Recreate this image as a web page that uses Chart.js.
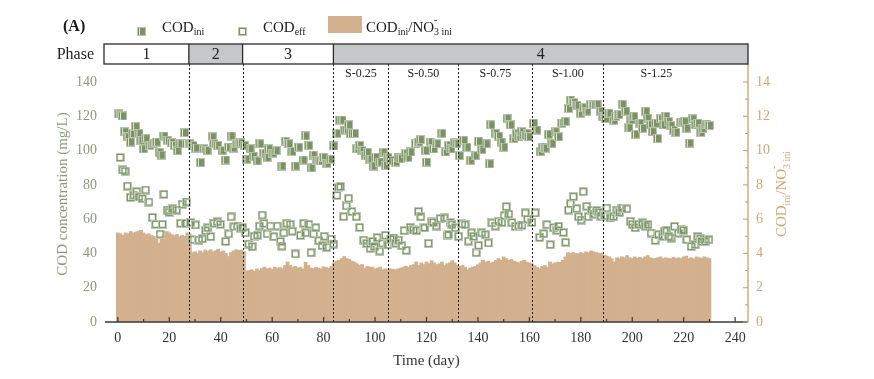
<!DOCTYPE html>
<html><head><meta charset="utf-8">
<script src="https://cdn.jsdelivr.net/npm/chart.js@4.4.1/dist/chart.umd.min.js"></script>
<style>html,body{margin:0;padding:0;background:#fff;}#wrap{width:874px;height:379px;}</style>
</head><body><div id="wrap"><canvas id="c" width="874" height="379"></canvas></div>
<script>
// ---------- DATA ----------
// COD_ini / NO3- ini ratio, one value per day (day 0 .. 230)
const ratio = [
  5.2,5.15,5.05,5.2,5.15,5.28,5.2,5.25,5.3,5.35,5.2,5.1,5.15,5.05,5.0,4.85,4.6,4.9,5.1,5.28,5.2,5.1,5.05,5.1,4.98,5.05,5.0,5.2,5.15,
  4.05,4.1,4.0,4.15,4.05,4.2,4.12,4.22,4.1,4.15,4.25,4.1,4.15,4.0,3.82,4.05,4.15,4.22,4.18,4.2,4.1,
  2.98,3.0,3.05,2.95,3.1,3.0,3.12,3.2,3.1,3.15,3.08,3.2,3.12,3.18,3.1,3.3,3.5,3.3,3.2,3.25,3.15,3.2,3.1,3.48,3.3,3.15,3.12,3.2,3.15,3.1,3.22,3.18,3.12,3.25,
  3.45,3.55,3.6,3.7,3.82,3.7,3.65,3.55,3.5,3.4,3.3,3.35,3.15,3.25,3.2,3.2,3.1,3.15,3.2,3.05,3.1,
  3.05,3.1,3.08,3.05,3.1,3.15,3.2,3.25,3.2,3.3,3.35,3.5,3.3,3.45,3.35,3.5,3.4,3.58,3.45,3.35,3.4,3.5,3.3,3.4,3.45,3.58,3.45,
  3.3,3.25,3.3,3.2,3.05,3.15,3.2,3.25,3.34,3.45,3.6,3.5,3.55,3.45,3.5,3.6,3.7,3.6,3.8,3.7,3.6,3.65,3.55,3.5,3.45,3.55,3.6,3.5,3.45,
  3.4,3.3,3.2,3.12,3.25,3.3,3.2,3.5,3.4,3.45,3.5,3.48,3.6,3.8,4.05,4.0,4.05,4.0,3.98,4.05,4.0,4.1,4.05,4.15,4.1,4.05,4.0,4.02,
  3.9,3.85,3.8,3.7,3.5,3.75,3.7,3.8,3.75,3.88,3.75,3.7,3.8,3.72,3.78,3.7,3.8,3.88,3.75,3.7,3.72,3.75,3.8,3.7,3.75,3.72,3.7,3.78,3.7,3.75,3.7,3.8,3.85,3.7,3.75,3.68,3.8,3.75,3.72,3.8,3.75,3.7
];
// COD_ini (mg/L): [day, value]
const codIni = [
  [0.4,121.4],[1.8,120.2],[2.6,111],[3.6,108],[4.9,105],[5.6,110],[6.9,114],[8.2,110],[8.9,106],[9.9,101],[10.8,107],[12.4,103],[14.0,104],[15.0,105],[16.0,99],[16.8,97.4],[17.9,108.5],[19.2,106],[20.9,104.6],[22.0,103],[23.1,100],[24.1,104],[25.9,110.5],[26.7,104],[28.0,104],
  [29.2,103],[30.2,101.5],[32.1,93],[33.4,101],[34.7,100],[36.7,108],[37.3,104],[38.8,103],[40.5,100],[41.8,94.5],[43.0,102],[44.0,108.5],[44.8,101.5],[46.3,104],[47.6,104.5],
  [49.2,103],[50.2,95],[51.4,101],[52.6,96.7],[54.1,94],[55.2,104],[56.7,98.5],[58.0,96],[58.6,101],[60.3,98.5],[61.5,100],[63.8,91],[65.1,105.5],[66.4,104],[67.7,99.5],[69.0,91],[70.3,102],[72.0,94.5],[72.9,108.6],[74.2,103],[75.1,90],[75.9,97.4],[77.4,94.5],[78.7,94],[80.0,96],[81.3,92.6],[82.6,95],[83.9,102.7],
  [85.2,110],[86.2,117.8],[87.1,117.8],[88.2,112],[88.8,112],[89.7,115],[90.4,110],[92.0,110],[92.9,101],[94.0,103],[94.9,100],[96.2,97],[97.0,99],[98.0,95],[99.2,91],[100.1,96],[101.8,93.3],[103.1,99],[104.0,91.4],
  [105.0,96],[106.0,94.3],[107.9,93.3],[109.0,96],[109.8,95.3],[111.8,98.2],[112.8,96],[113.7,99.2],[115.7,104],[117.0,105],[117.6,106.4],[119.5,100],[120.0,93.3],[121.4,105],[122.7,101],[124.0,104],[126.0,110],[127.3,99.2],[128.6,103],[129.5,101],[130.8,104.6],[131.8,104],
  [132.8,97],[134.4,106],[135.7,102],[137.0,94.3],[138.9,97],[140.2,105.5],[141.5,100.6],[143.2,104],[144.5,92.3],[145.0,115],[146.7,110],[148.0,108.5],[149.0,105],[150.0,102],[151.3,118.8],[152.6,115],[153.9,107],[155.0,110],[155.9,108],[157.0,111],[157.8,109],[159.1,110],[159.6,108],
  [161.6,116],[162.9,112],[164.2,99.4],[165.0,102],[166.1,101.4],[167.4,109.5],[168.7,104],[170.0,111],[171.3,108],[172.6,116],[173.9,117],[175.2,124.6],[175.9,129.5],[177.2,128],[178.5,126.5],[179.8,121.8],[181.1,125],[182.4,123],[183.7,127],[185.0,126.6],[186.3,127],[187.6,123],[188.6,120],
  [189.6,118.7],[190.9,121.8],[192.8,117.6],[193.5,120],[194.8,121],[196.1,127],[197.4,123],[198.7,113.2],[199.5,118],[200.6,120],[201.3,109.5],[203.0,116],[204.0,113],[205.2,123],[205.8,119],[207.0,115],[207.8,111],[209.0,116],[209.8,107],[211.0,118.5],[212.0,115],[213.0,120],[214.0,117],[215.0,114.6],[216.0,112],[217.0,110.6],[218.9,116.5],[220.2,117],[221.0,113],[222.2,104.3],[223.5,118.5],[224.5,115],[225.4,116],[226.7,110.6],[227.5,113],[228.7,115.4],[230.0,114.6]
];
// COD_eff (mg/L): [day, value]
const codEff = [
  [0.9,96],[1.9,88.7],[2.8,88],[3.7,79.3],[4.9,72.7],[6.2,74],[7.3,76],[8.2,73],[9.5,72],[10.8,77],[12.1,70],[13.4,61],[14.7,57],[16.4,51.3],[17.3,57],[17.9,74.5],[19.2,65.3],[19.9,64],[21.2,66],[22.8,65.3],[24.4,57.6],[25.0,68.7],[26.3,57.5],[26.7,70],[28.2,58],
  [28.8,48],[30.2,56.6],[31.5,47.8],[32.8,48.5],[34.1,53.3],[35.0,55],[36.1,49.8],[37.3,57.6],[38.6,58.5],[39.9,57],[41.9,47],[43.1,51.4],[44.0,61.3],[45.1,55.5],[46.4,56],[47.7,54.6],[48.5,55],
  [49.6,52],[50.9,45.5],[52.2,44],[53.0,50],[54.2,50.6],[55.0,56],[56.1,62.4],[56.8,57.5],[58.0,51.4],[59.3,56],[60.6,49.8],[61.9,56],[63.2,47],[63.8,44.3],[64.5,52],[65.7,57.6],[67.0,57],[67.8,53],[69.0,39.7],[71.0,50.6],[72.3,57.6],[73.0,52],[74.2,57],[75.1,40.4],[76.1,51.4],[77.0,55],[78.1,47.4],[79.4,44.5],[80.2,50],[81.1,43.6],[82.9,48.4],[83.9,45.5],
  [85.2,73.9],[85.8,78.6],[86.5,79],[87.8,61.4],[88.8,67.7],[89.7,72.2],[91.0,64.4],[92.7,61.4],[94.0,55.2],[95.6,47.8],[96.8,45.9],[98.1,43],[99.0,47],[99.7,44],[100.8,49.2],[101.8,41.4],[102.8,46],[104.0,50.6],
  [105.0,45],[106.0,48.2],[107.2,49],[108.0,46],[109.1,47.8],[110.4,44.5],[111.3,53.3],[112.1,41.8],[113.7,55.2],[114.9,53.7],[116.0,53.3],[116.9,64.4],[117.8,61.4],[118.8,55],[119.3,55],[120.8,45.9],[122.1,58.5],[122.7,58.1],[123.8,56],[125.3,60.3],[126.9,60.7],[128.0,50.6],[128.6,51],[129.3,58],[129.9,56.8],[131.2,55],
  [132.5,50],[133.8,57.2],[135.0,56.8],[136.3,47.2],[137.5,52],[138.3,50],[139.3,40.4],[140.2,44.7],[141.5,52],[142.8,50.9],[144.1,46.1],[145.4,57.8],[146.7,56],[148.0,58.8],[149.3,58],[150.2,62],[151.0,67.3],[152.0,63],[153.2,58],[154.5,55.8],[155.8,56],[157.1,56.5],[158.4,63.6],[159.3,60],
  [161.0,58.1],[162.3,63.6],[164.0,49.4],[165.6,51.5],[166.8,56.8],[168.1,45.1],[169.4,55],[170.7,53.5],[171.3,55.8],[173.2,52.3],[174.1,46.5],[175.2,65.3],[176.0,69],[177.1,73.1],[178.4,66.1],[179.1,61.4],[180.1,59.5],[180.9,76],[182.3,67.5],[182.9,61.4],[184.2,65.3],[185.0,63],[186.2,65],[187.0,64],[187.8,61.8],
  [189.4,62],[190.1,66.5],[191.4,60.7],[192.7,61.5],[194.0,65.3],[195.0,64],[196.0,66.5],[197.9,66],[199.2,58.8],[200.0,57],[201.1,55],[202.4,57],[204.0,57.8],[205.0,56],[206.1,56.8],[207.3,51.9],[208.9,47.6],[210.2,50.9],[211.8,50],[212.5,53],[213.4,53.5],[214.2,50],[215.1,49],[216.4,55.8],[217.9,51.9],[219.0,54],[219.9,53.5],[221.2,48],[222.9,44.1],[224.4,45.1],[225.5,49.8],[226.5,48.5],[227.0,47],[228.3,47],[229.8,48]
];
const xTicks = [0,20,40,60,80,100,120,140,160,180,200,220,240];
const yTicks = [0,20,40,60,80,100,120,140];
const y2Ticks = [0,2,4,6,8,10,12,14];
const phaseNames = ['1','2','3','4'];
const phaseEdges = [27.6,48.5,83.8];           // day boundaries between phases
const stageNames = ['S-0.25','S-0.50','S-0.75','S-1.00','S-1.25'];
const stageEdges = [83.8,105.2,132.4,161.2,188.7,230]; // day boundaries of stages
const dividers = [27.6,48.5,83.8,105.2,132.4,161.2,188.7];

// ---------- STYLE ----------
const FF = "'Liberation Serif','Times New Roman',serif";
const GREEN_TXT = '#8a9b78';
const TAN_TXT = '#d3a675';
const TAN_LINE = '#d49e68';
const BAR_COL = '#d3b08e';
const DARK = '#2b2b2b';

function makeMarker(filled){
  const c = document.createElement('canvas'); c.width = 9; c.height = 9;
  const g = c.getContext('2d');
  if (filled) {
    g.fillStyle = '#b7c3aa'; g.fillRect(0,0,9,9);
    g.fillStyle = '#7b9265'; g.fillRect(1,1,7,7);
    g.fillStyle = '#e2e8da'; g.fillRect(2,1,1,7);
  } else {
    g.strokeStyle = '#c3cdb8'; g.lineWidth = 1; g.strokeRect(0.5,0.5,8,8);
    g.strokeStyle = '#7a9468'; g.lineWidth = 1.2; g.strokeRect(1.5,1.5,6,6);
  }
  return c;
}
const filledImg = makeMarker(true);
const hollowImg = makeMarker(false);

function rich(ctx, parts, x, y, align){
  let w = 0;
  parts.forEach(p => { ctx.font = (p.b ? 'bold ' : '') + p.s + 'px ' + FF; if (p.adv !== false) w += ctx.measureText(p.t).width; });
  let cx = align === 'center' ? x - w/2 : x;
  parts.forEach(p => {
    ctx.font = (p.b ? 'bold ' : '') + p.s + 'px ' + FF;
    ctx.fillText(p.t, cx, y + (p.dy || 0));
    if (p.adv !== false) cx += ctx.measureText(p.t).width;
  });
}
const ratioTitle = [
  {t:'COD', s:15}, {t:'ini', s:10, dy:3.5}, {t:'/NO', s:15},
  {t:'-', s:10, dy:-9, adv:false}, {t:'3', s:10, dy:3.5}, {t:' ini', s:10, dy:3.5}
];

const overlay = {
  id: 'overlay',
  afterDatasetsDraw(chart){
    const {ctx, chartArea: a, scales: {x}} = chart;
    ctx.save();
    ctx.strokeStyle = '#1e1e1e'; ctx.lineWidth = 1; ctx.setLineDash([2,2]);
    dividers.forEach(d => {
      const px = Math.round(x.getPixelForValue(d)) + 0.5;
      ctx.beginPath(); ctx.moveTo(px, a.top); ctx.lineTo(px, a.bottom); ctx.stroke();
    });
    ctx.restore();
  },
  afterDraw(chart){
    const {ctx, chartArea: a, scales: {x, y2}} = chart;
    ctx.save();
    // x axis line & inward ticks
    ctx.strokeStyle = '#3a3a3a'; ctx.lineWidth = 1.3;
    ctx.beginPath(); ctx.moveTo(a.left, a.bottom); ctx.lineTo(a.right, a.bottom); ctx.stroke();
    ctx.lineWidth = 1.2;
    for (let v = 0; v <= 240; v += 10) {
      const px = x.getPixelForValue(v);
      const len = v % 20 === 0 ? 5 : 3;
      ctx.beginPath(); ctx.moveTo(px, a.bottom); ctx.lineTo(px, a.bottom - len); ctx.stroke();
    }
    // right axis line & inward ticks
    ctx.strokeStyle = TAN_LINE; ctx.lineWidth = 1.3;
    ctx.beginPath(); ctx.moveTo(a.right, a.top); ctx.lineTo(a.right, a.bottom); ctx.stroke();
    ctx.lineWidth = 1.1;
    for (let v = 0; v <= 14; v += 1) {
      const py = y2.getPixelForValue(v);
      const len = v % 2 === 0 ? 5 : 3;
      ctx.beginPath(); ctx.moveTo(a.right, py); ctx.lineTo(a.right - len, py); ctx.stroke();
    }
    // phase box
    const boxTop = 44, boxBot = a.top;
    const edges = [a.left - 1, ...phaseEdges.map(d => x.getPixelForValue(d)), a.right];
    for (let i = 0; i < 4; i++) {
      ctx.fillStyle = (i % 2 === 1) ? '#c6c7c9' : '#ffffff';
      ctx.fillRect(edges[i], boxTop, edges[i+1] - edges[i], boxBot - boxTop);
    }
    ctx.strokeStyle = DARK; ctx.lineWidth = 1.3;
    ctx.strokeRect(edges[0], boxTop, edges[4] - edges[0], boxBot - boxTop);
    for (let i = 1; i < 4; i++) {
      ctx.beginPath(); ctx.moveTo(edges[i], boxTop); ctx.lineTo(edges[i], boxBot); ctx.stroke();
    }
    ctx.fillStyle = '#222'; ctx.textBaseline = 'middle'; ctx.textAlign = 'center';
    ctx.font = '16px ' + FF;
    for (let i = 0; i < 4; i++) ctx.fillText(phaseNames[i], (edges[i] + edges[i+1]) / 2, 54.5);
    ctx.textAlign = 'right';
    ctx.fillText('Phase', 94, 54.5);
    // stage labels
    ctx.textAlign = 'center'; ctx.font = '12px ' + FF;
    for (let i = 0; i < stageNames.length; i++) {
      const cx = (x.getPixelForValue(stageEdges[i]) + x.getPixelForValue(stageEdges[i+1])) / 2;
      ctx.fillText(stageNames[i], cx, 74);
    }
    // axis titles
    ctx.fillStyle = '#333'; ctx.font = '15px ' + FF; ctx.textBaseline = 'middle';
    ctx.fillText('Time (day)', (x.getPixelForValue(0) + x.getPixelForValue(240)) / 2, 361);
    ctx.save(); ctx.translate(63, 194); ctx.rotate(-Math.PI/2);
    ctx.fillStyle = GREEN_TXT; ctx.fillText('COD concentration (mg/L)', 0, 0);
    ctx.restore();
    ctx.save(); ctx.translate(781, 194); ctx.rotate(-Math.PI/2);
    ctx.fillStyle = TAN_TXT; ctx.textAlign = 'left'; ctx.textBaseline = 'alphabetic';
    rich(ctx, ratioTitle, 0, 5, 'center');
    ctx.restore();
    // legend
    ctx.textAlign = 'left'; ctx.textBaseline = 'alphabetic'; ctx.fillStyle = '#1a1a1a';
    rich(ctx, [{t:'(A)', s:16, b:true}], 63, 31, 'left');
    ctx.drawImage(filledImg, 137, 27);
    rich(ctx, [{t:'COD', s:15}, {t:'ini', s:10, dy:3.5}], 162, 31.5, 'left');
    ctx.drawImage(hollowImg, 238, 27);
    rich(ctx, [{t:'COD', s:15}, {t:'eff', s:10, dy:3.5}], 263, 31.5, 'left');
    ctx.fillStyle = BAR_COL; ctx.fillRect(328, 16, 34, 17);
    ctx.fillStyle = '#1a1a1a';
    rich(ctx, ratioTitle, 366, 31.5, 'left');
    ctx.restore();
  }
};

Chart.defaults.font.family = FF;
new Chart(document.getElementById('c'), {
  type: 'bar',
  data: {
    datasets: [
      { type: 'scatter', label: 'COD_ini', data: codIni.map(p => ({x: p[0], y: p[1]})), yAxisID: 'y', xAxisID: 'x',
        pointStyle: filledImg, pointRadius: 4, order: 1 },
      { type: 'scatter', label: 'COD_eff', data: codEff.map(p => ({x: p[0], y: p[1]})), yAxisID: 'y', xAxisID: 'x',
        pointStyle: hollowImg, pointRadius: 4, order: 2 },
      { type: 'bar', label: 'ratio', data: ratio.map((v, i) => ({x: i, y: v})), yAxisID: 'y2', xAxisID: 'x',
        backgroundColor: BAR_COL, borderWidth: 0, barThickness: 3.1, order: 3 }
    ]
  },
  options: {
    responsive: false, animation: false, devicePixelRatio: 1,
    layout: { padding: { top: 64, left: 0, right: 0, bottom: 0 } },
    plugins: { legend: { display: false }, tooltip: { enabled: false } },
    scales: {
      x: { type: 'linear', min: -5, max: 245, offset: false,
        grid: { display: false, drawTicks: false }, border: { display: false },
        ticks: { color: '#333', font: { size: 14, family: FF }, padding: 8, maxRotation: 0, autoSkip: false },
        afterBuildTicks: s => { s.ticks = xTicks.map(v => ({ value: v })); },
        afterFit: s => { s.height = 57; } },
      y: { type: 'linear', position: 'left', min: 0, max: 150.5,
        grid: { display: false, drawTicks: false }, border: { display: false },
        ticks: { color: GREEN_TXT, font: { size: 14, family: FF }, padding: 8 },
        afterBuildTicks: s => { s.ticks = yTicks.map(v => ({ value: v })); },
        afterFit: s => { s.width = 105; } },
      y2: { type: 'linear', position: 'right', min: 0, max: 15.05,
        grid: { display: false, drawTicks: false }, border: { display: false },
        ticks: { color: TAN_TXT, font: { size: 14, family: FF }, padding: 8 },
        afterBuildTicks: s => { s.ticks = y2Ticks.map(v => ({ value: v })); },
        afterFit: s => { s.width = 126; } }
    }
  },
  plugins: [overlay]
});
</script></body></html>
